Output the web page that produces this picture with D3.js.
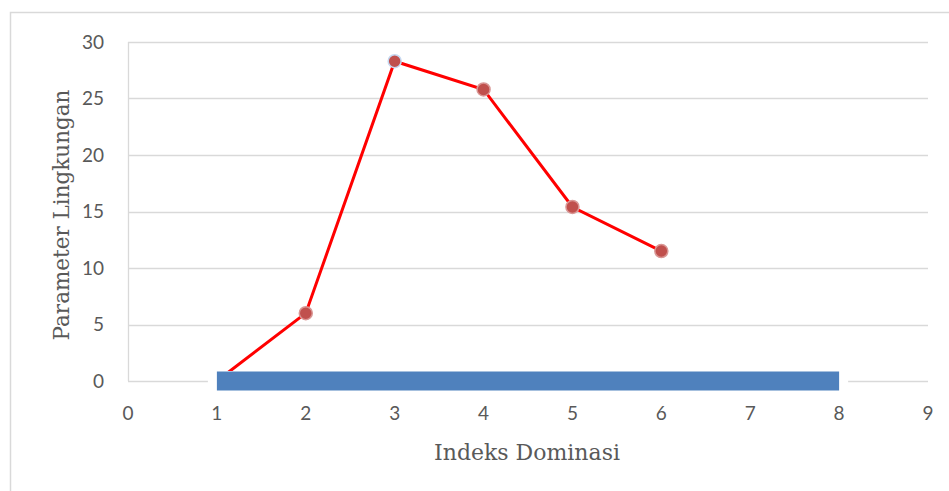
<!DOCTYPE html>
<html><head><meta charset="utf-8">
<script src="https://cdn.jsdelivr.net/npm/d3@7"></script>
<style>body{margin:0;background:#fff}svg{display:block}</style>
</head><body>
<svg id="c" width="949" height="491"></svg>
<script>
const xValues = [1, 2, 3, 4, 5, 6];
const yValues = [0, 6, 28.3, 25.8, 15.4, 11.5];
const barRange = [1, 8];
const xTicks = [0, 1, 2, 3, 4, 5, 6, 7, 8, 9];
const yTicks = [0, 5, 10, 15, 20, 25, 30];
const xTitle = "Indeks Dominasi";
const yTitle = "Parameter Lingkungan";

const svg = d3.select("#c");
const x = d3.scaleLinear().domain([0, 9]).range([128, 928]);
const y = d3.scaleLinear().domain([0, 30]).range([381, 42]);

svg.append("rect").attr("x", 10.5).attr("y", 12.5).attr("width", 960).attr("height", 500)
  .attr("fill", "#fff").attr("stroke", "#d9d9d9").attr("stroke-width", 1.5);

// gridlines
svg.append("g").selectAll("line").data(yTicks).join("line")
  .attr("x1", x(0)).attr("x2", x(9))
  .attr("y1", d => Math.round(y(d)) + 0.5).attr("y2", d => Math.round(y(d)) + 0.5)
  .attr("stroke", "#d9d9d9").attr("stroke-width", 1.3);
// y axis line
svg.append("line").attr("x1", x(0) + 0.5).attr("x2", x(0) + 0.5).attr("y1", y(30)).attr("y2", y(0))
  .attr("stroke", "#d9d9d9").attr("stroke-width", 1.3);

// tick labels
svg.append("g").selectAll("text").data(yTicks).join("text")
  .attr("x", 104).attr("y", d => y(d)).attr("dy", "0.35em").attr("text-anchor", "end")
  .attr("font-family", "Lato, sans-serif").attr("font-size", 19).attr("fill", "#595959")
  .text(d => d);
svg.append("g").selectAll("text").data(xTicks).join("text")
  .attr("x", d => x(d)).attr("y", 420).attr("text-anchor", "middle")
  .attr("font-family", "Lato, sans-serif").attr("font-size", 19).attr("fill", "#595959")
  .text(d => d);

// titles
svg.append("text").attr("x", 527).attr("y", 460).attr("text-anchor", "middle")
  .attr("font-family", "DejaVu Serif, serif").attr("font-size", 22).attr("fill", "#595959")
  .text(xTitle);
svg.append("text").attr("transform", "translate(69,215) rotate(-90)").attr("text-anchor", "middle")
  .attr("font-family", "DejaVu Serif, serif").attr("font-size", 21.5).attr("fill", "#595959")
  .text(yTitle);

// red line series
const pts = xValues.map((v, i) => [v, yValues[i]]);
svg.append("path").datum(pts)
  .attr("d", d3.line().x(d => x(d[0])).y(d => y(d[1])))
  .attr("fill", "none").attr("stroke", "#ff0000").attr("stroke-width", 3);
svg.append("g").selectAll("circle").data(pts).join("circle")
  .attr("cx", d => x(d[0])).attr("cy", d => y(d[1])).attr("r", 6.5)
  .attr("fill", "#c0504d").attr("stroke", (d, i) => i === 2 ? "#c6d9f1" : "#d99694").attr("stroke-width", 1.5);

// blue bar
svg.append("rect").attr("x", x(barRange[0]) - 9).attr("width", x(barRange[1]) - x(barRange[0]) + 18)
  .attr("y", y(0) - 10).attr("height", 20).attr("fill", "#fff");
svg.append("rect").attr("x", x(barRange[0])).attr("width", x(barRange[1]) - x(barRange[0]))
  .attr("y", y(0) - 9.5).attr("height", 19).attr("fill", "#4f81bd");
</script>
</body></html>
